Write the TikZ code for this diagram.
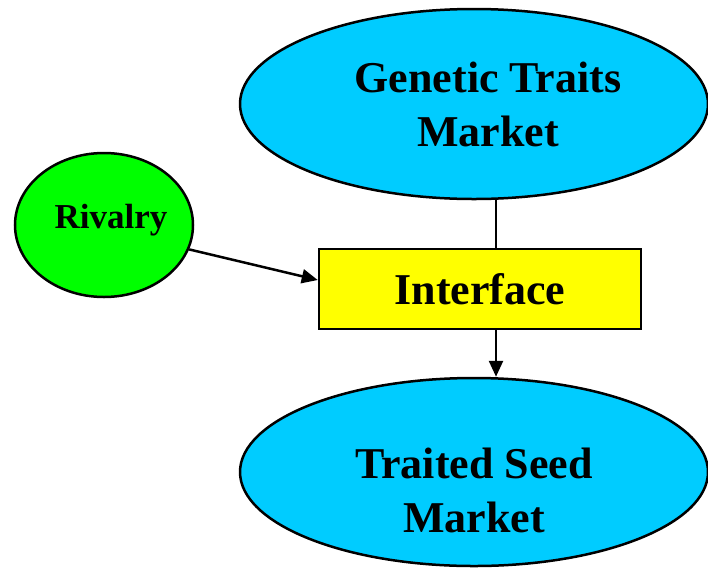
\documentclass[tikz,border=0pt]{standalone}
\usepackage{fontspec}
\setmainfont{Liberation Serif}
\usetikzlibrary{shapes.geometric,arrows.meta}
\definecolor{skyfill}{HTML}{00CCFF}
\definecolor{rivalgreen}{HTML}{00FF00}
\definecolor{boxyellow}{HTML}{FFFF00}
\tikzstyle{market}=[draw,ellipse,fill=skyfill,minimum width=468pt,minimum height=190pt,inner sep=0pt]
\tikzstyle{marketlbl}=[align=center,font=\fontsize{44}{54}\selectfont\bfseries]

\begin{document}
\begin{tikzpicture}[x=1pt,y=-1pt,line width=2.5pt,>={Triangle[length=16pt,width=14pt]}]
\useasboundingbox (0,0) rectangle (708,568);
  \node[market] (traits) at (474,104) {};
  \node[marketlbl] (traitslbl) at ([xshift=14pt,yshift=0pt]traits) {Genetic Traits\\Market};
  \node[market,minimum height=188pt] (seed) at (474,472) {};
  \node[marketlbl] (seedlbl) at ([yshift=-18pt]seed) {Traited Seed\\Market};
  \node[draw,ellipse,fill=rivalgreen,minimum width=178pt,minimum height=144pt,inner sep=0pt] (rivalry) at (104,225) {};
  \node[font=\fontsize{35}{40}\selectfont\bfseries] (rivalrylbl) at ([xshift=7pt,yshift=5pt]rivalry) {Rivalry};
  \node[draw,fill=boxyellow,minimum width=322pt,minimum height=80pt,inner sep=0pt,
        font=\fontsize{44}{50}\selectfont\bfseries] (iface) at (480,289) {Interface};
  \draw ([xshift=16pt]iface.north) -- ([xshift=16pt]iface.north |- traits.south);
  \draw[->] ([xshift=16pt]iface.south) -- ([xshift=16pt]iface.south |- seed.north);
  \draw[->] (rivalry.-16) -- ([yshift=9pt]iface.west);
\end{tikzpicture}
\end{document}
